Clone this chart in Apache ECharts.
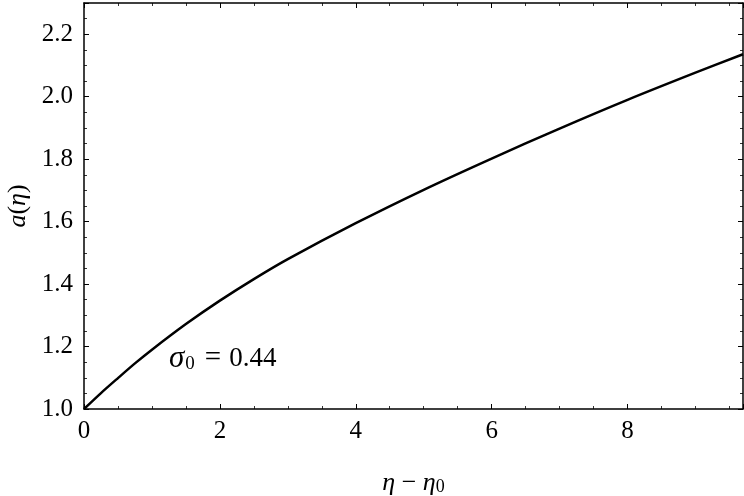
<!DOCTYPE html>
<html>
<head>
<meta charset="utf-8">
<script src="https://cdn.jsdelivr.net/npm/echarts@6/dist/echarts.min.js"></script>
<style>html,body{margin:0;padding:0;background:#fff}#c{width:744px;height:496px}</style>
</head>
<body>
<div id="c"></div>
<script>
const etaValues = [0, 0.25, 0.5, 0.75, 1, 1.5, 2, 2.5, 3, 4, 5, 6, 7, 8, 9, 9.7];
const aValues   = [1.0, 1.051, 1.099, 1.146, 1.190, 1.272, 1.347, 1.416, 1.480, 1.595, 1.702, 1.802, 1.898, 1.990, 2.077, 2.136];
const xTicks = [0, 2, 4, 6, 8];
const yTicks = [1.0, 1.2, 1.4, 1.6, 1.8, 2.0, 2.2];
const annotation = {sigma: 'σ', sub: '0', eq: '=', value: '0.44'};

const FONT = 'Liberation Serif';
const chart = echarts.init(document.getElementById('c'), null, {renderer: 'canvas'});

function axisCommon(showLabel, pos) {
  return {
    position: pos,
    axisLine: {show: true, onZero: false, lineStyle: {color: '#000', width: 1.5}},
    axisTick: {show: true, inside: true, length: 5, lineStyle: {color: '#000', width: 1}},
    minorTick: {show: true, splitNumber: 4, length: 3, lineStyle: {color: '#000', width: 0.8}},
    splitLine: {show: false},
    minorSplitLine: {show: false},
    axisLabel: {show: showLabel, color: '#000', fontFamily: FONT, fontSize: 25, showMaxLabel: false, margin: 10}
  };
}

const option = {
  animation: false,
  backgroundColor: '#fff',
  grid: {left: 84, right: 1, top: 3, bottom: 87, containLabel: false, outerBoundsMode: 'none'},
  xAxis: [
    Object.assign({type: 'value', min: 0, max: 9.7, interval: 2,
      name: '{i|η} − {i|η}{s|0}', nameLocation: 'middle', nameGap: 61,
      nameTextStyle: {color: '#000', fontFamily: FONT, fontSize: 26,
        rich: {i: {fontStyle: 'italic', fontFamily: FONT, fontSize: 26, color: '#000'},
               s: {fontFamily: FONT, fontSize: 18, color: '#000', verticalAlign: 'bottom', padding: [8, 0, 0, 0]}}}
    }, axisCommon(true, 'bottom')),
    Object.assign({type: 'value', min: 0, max: 9.7, interval: 2}, axisCommon(false, 'top'))
  ],
  yAxis: [
    Object.assign({type: 'value', min: 1.0, max: 2.3, interval: 0.2,
      name: '{i|a}({i|η})', nameLocation: 'middle', nameGap: 52, nameRotate: 90,
      nameTextStyle: {color: '#000', fontFamily: FONT, fontSize: 26,
        rich: {i: {fontStyle: 'italic', fontFamily: FONT, fontSize: 26, color: '#000'}}}
    }, axisCommon(true, 'left'), {
      axisLabel: {show: true, color: '#000', fontFamily: FONT, fontSize: 25, margin: 11, showMaxLabel: false,
        formatter: v => v.toFixed(1)}
    }),
    Object.assign({type: 'value', min: 1.0, max: 2.3, interval: 0.2}, axisCommon(false, 'right'))
  ],
  series: [{
    type: 'line',
    xAxisIndex: 0, yAxisIndex: 0,
    data: etaValues.map((e, i) => [e, aValues[i]]),
    showSymbol: false,
    smooth: 0.3,
    lineStyle: {color: '#000', width: 2.5},
    clip: true
  }],
  graphic: [{
    type: 'text', left: 169, top: 343,
    style: {
      text: '{i|' + annotation.sigma + '}{s|' + annotation.sub + '}{e|' + annotation.eq + '}{n|' + annotation.value + '}',
      fill: '#000', fontFamily: FONT, fontSize: 27,
      rich: {
        i: {fontStyle: 'italic', fontFamily: FONT, fontSize: 31, fill: '#000'},
        s: {fontFamily: FONT, fontSize: 19, fill: '#000', verticalAlign: 'bottom', padding: [9, 0, 0, 1]},
        e: {fontFamily: FONT, fontSize: 29, fill: '#000', padding: [0, 8, 0, 10]},
        n: {fontFamily: FONT, fontSize: 27, fill: '#000'}
      }
    }
  }]
};
chart.setOption(option);
</script>
</body>
</html>
